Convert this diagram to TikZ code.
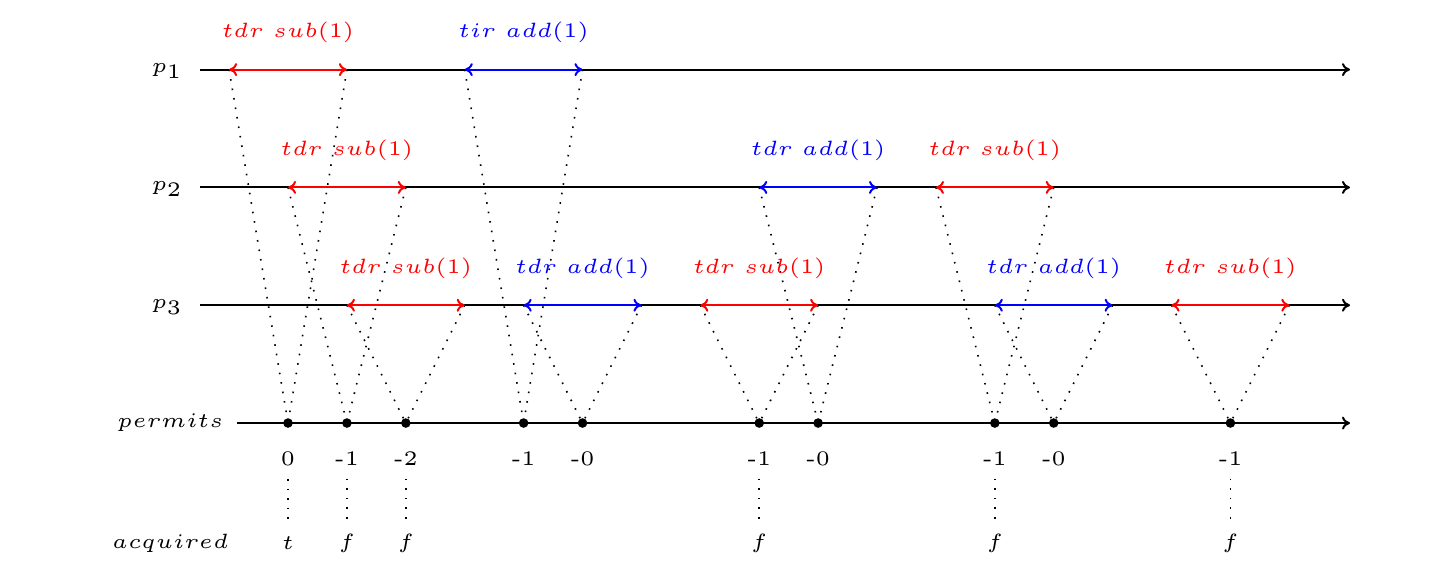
\documentclass[tikz,border=0pt]{standalone}
\usetikzlibrary{calc,arrows.meta}
\begin{document}
\begin{tikzpicture}[x=29.45pt,y=29.45pt,
  >={To[length=4pt,width=6.5pt]},
  lbl/.style={font=\tiny, scale=2.07, inner sep=0pt},
  axis/.style={line width=1pt, ->},
  ivl/.style={line width=1pt, <->},
  dots/.style={line width=0.8pt, dash pattern=on 0.8pt off 4pt},
  dot/.style={circle, fill=black, inner sep=0pt, minimum size=4.8pt}]
\useasboundingbox (-4.890,-2.547) rectangle (19.711,7.182);
% row labels
\node[lbl] (lp1) at (-2.05,5.97) {$p_1$};
\node[lbl] (lp2) at (-2.05,3.97) {$p_2$};
\node[lbl] (lp3) at (-2.05,1.97) {$p_3$};
\node[lbl] (lpm) at (-2.0,0) {$permits$};
\node[lbl] (lac) at (-2.0,-2.04) {$acquired$};
% axes
\coordinate (s1) at (-1.494,6); \coordinate (e1) at (18.03,6);
\coordinate (s2) at (-1.494,4); \coordinate (e2) at (18.03,4);
\coordinate (s3) at (-1.494,2); \coordinate (e3) at (18.03,2);
\coordinate (s0) at (-0.866,0); \coordinate (e0) at (18.03,0);
\draw[axis] (s1) -- (e1);
\draw[axis] (s2) -- (e2);
\draw[axis] (s3) -- (e3);
\draw[axis] (s0) -- (e0);
% permit dots
\foreach \k in {0,1,2,4,5,8,9,12,13,16}
  \node[dot] (d\k) at (\k,0) {};
% intervals: start / row y / colour / label / target dot
\foreach \s/\y/\c/\t/\d [count=\i] in {
  -1/6/red/tdr\ sub(1)/0,
  3/6/blue/tir\ add(1)/4,
  0/4/red/tdr\ sub(1)/1,
  8/4/blue/tdr\ add(1)/9,
  11/4/red/tdr\ sub(1)/12,
  1/2/red/tdr\ sub(1)/2,
  4/2/blue/tdr\ add(1)/5,
  7/2/red/tdr\ sub(1)/8,
  12/2/blue/tdr\ add(1)/13,
  15/2/red/tdr\ sub(1)/16}{
  \coordinate (a\i) at (\s,\y);
  \coordinate (b\i) at (\s+2,\y);
  \draw[dots] (a\i) -- (d\d);
  \draw[dots] (b\i) -- (d\d);
  \draw[ivl,\c] (a\i) -- (b\i);
  \node[lbl,text=\c] (t\i) at ($(a\i)!0.5!(b\i)+(0,0.63)$) {$\t$};
}
% values
\foreach \k/\v in {0/0,1/-1,2/-2,4/-1,5/-0,8/-1,9/-0,12/-1,13/-0,16/-1}
  \node[lbl] (v\k) at (\k,-0.61) {\v};
% acquired
\foreach \k/\q in {0/t,1/f,2/f,8/f,12/f,16/f}{
  \node[lbl] (q\k) at (\k,-2.04) {$\q$};
  \draw[dots, shorten <=6pt, shorten >=6pt] (v\k.south) -- (q\k.north);
}
\end{tikzpicture}
\end{document}
